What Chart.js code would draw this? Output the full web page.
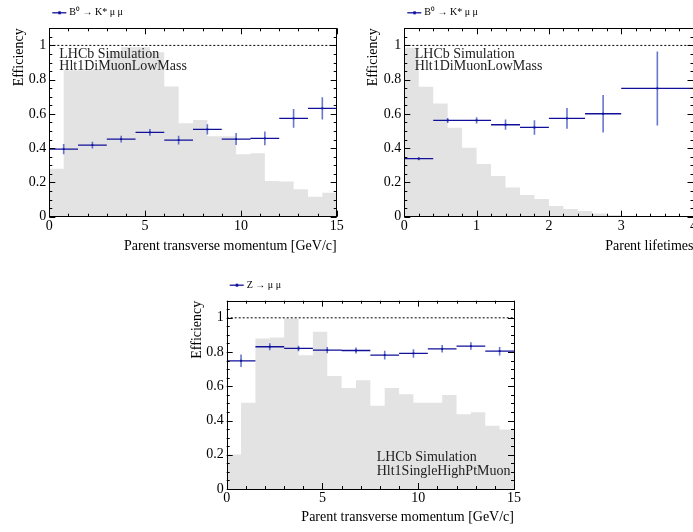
<!DOCTYPE html>
<html>
<head>
<meta charset="utf-8">
<script src="https://cdn.jsdelivr.net/npm/chart.js@4.4.1/dist/chart.umd.min.js"></script>
<style>
  body { margin: 0; background: #fff; }
  #page { position: relative; width: 693px; height: 532px; overflow: hidden; background: #fff; }
  canvas { position: absolute; }
</style>
</head>
<body>
<div id="page">
  <canvas id="ptChart" width="346" height="266" style="left:0;top:0"></canvas>
  <canvas id="tauChart" width="380" height="266" style="left:340px;top:0"></canvas>
  <canvas id="zChart" width="370" height="262" style="left:160px;top:270px"></canvas>
</div>
<script>
// 1. Data

// B0 -> K* mu mu vs pT
const ptHistEdges = [0, 0.75, 1.5, 2.25, 3, 3.75, 4.5, 5.25, 6, 6.75, 7.5, 8.25, 9, 9.75, 10.5, 11.25, 12, 12.75, 13.5, 14.25, 15];
const ptHist = [0.28, 0.855, 0.855, 0.86, 0.96, 0.99, 0.99, 0.96, 0.76, 0.545, 0.565, 0.47, 0.47, 0.365, 0.37, 0.208, 0.205, 0.16, 0.117, 0.14];
const ptEffEdges = [0, 1.5, 3, 4.5, 6, 7.5, 9, 10.5, 12, 13.5, 15];
const ptEff = [0.395, 0.418, 0.453, 0.492, 0.447, 0.51, 0.453, 0.457, 0.574, 0.632];
const ptErr = [0.03, 0.02, 0.02, 0.02, 0.025, 0.03, 0.035, 0.04, 0.055, 0.065];

// B0 -> K* mu mu vs lifetime
const tauHistEdges = [0, 0.2, 0.4, 0.6, 0.8, 1, 1.2, 1.4, 1.6, 1.8, 2, 2.2, 2.4, 2.6, 2.8, 3, 3.2, 3.4, 3.6, 3.8, 4];
const tauHist = [0.986, 0.759, 0.661, 0.52, 0.403, 0.307, 0.237, 0.171, 0.126, 0.103, 0.062, 0.045, 0.033, 0.018, 0.01, 0.006, 0.004, 0.003, 0.002, 0.001];
const tauEffEdges = [0, 0.4, 0.8, 1.2, 1.6, 2, 2.5, 3, 4];
const tauEff = [0.339, 0.562, 0.562, 0.537, 0.521, 0.574, 0.601, 0.749];
const tauErr = [0.01, 0.015, 0.018, 0.03, 0.042, 0.06, 0.11, 0.216];

// Z -> mu mu vs pT
const zHist = [0.202, 0.504, 0.879, 0.885, 0.996, 0.782, 0.918, 0.66, 0.59, 0.636, 0.486, 0.59, 0.554, 0.504, 0.504, 0.549, 0.436, 0.449, 0.37, 0.348];
const zEff = [0.749, 0.831, 0.821, 0.811, 0.809, 0.782, 0.792, 0.819, 0.835, 0.805];
const zErr = [0.036, 0.02, 0.016, 0.018, 0.018, 0.025, 0.025, 0.022, 0.022, 0.025];

// tick labels
const ptTicks = [0, 5, 10, 15];
const tauTicks = [0, 1, 2, 3, 4];
const effTicks = [0, 0.2, 0.4, 0.6, 0.8, 1];

Chart.defaults.font.family = "'Liberation Serif', 'DejaVu Serif', serif";
Chart.defaults.font.size = 14;
Chart.defaults.color = '#000';

// 2. helpers turning bins into line points
function histPoints(edges, vals) {
    const pts = vals.map((v, i) => ({ x: edges[i], y: v }));
    pts.push({ x: edges[edges.length - 1], y: vals[vals.length - 1] });
    return pts;
}

function hBars(edges, vals) {
    const pts = [];
    vals.forEach((v, i) => {
        pts.push({ x: edges[i], y: v }, { x: edges[i + 1], y: v }, { x: edges[i + 1], y: null });
    });
    return pts;
}

function vBars(edges, vals, errs) {
    const pts = [];
    vals.forEach((v, i) => {
        const c = (edges[i] + edges[i + 1]) / 2;
        pts.push({ x: c, y: v - errs[i] }, { x: c, y: v + errs[i] }, { x: c, y: null });
    });
    return pts;
}

function centers(edges, vals) {
    return vals.map((v, i) => ({ x: (edges[i] + edges[i + 1]) / 2, y: v }));
}

// 3. ROOT style frame, inner ticks, legend and labels
const rootFrame = {
    id: 'rootFrame',
    afterDatasetsDraw(chart, args, o) {
        const { ctx, chartArea: a, scales: { x, y } } = chart;
        ctx.save();
        ctx.strokeStyle = '#000';
        ctx.lineWidth = 1;
        ctx.beginPath();
        for (let k = 0; x.min + k * o.xMinor <= x.max + 1e-9; k++) {
            const v = x.min + k * o.xMinor;
            const px = Math.round(x.getPixelForValue(v)) + 0.5;
            const major = Math.abs(v / o.xMajor - Math.round(v / o.xMajor)) < 1e-6;
            const len = major ? 6 : 3;
            ctx.moveTo(px, a.bottom); ctx.lineTo(px, a.bottom - len);
            ctx.moveTo(px, a.top); ctx.lineTo(px, a.top + len);
        }
        for (let k = 0; k * o.yMinor <= y.max + 1e-9; k++) {
            const v = k * o.yMinor;
            const py = Math.round(y.getPixelForValue(v)) + 0.5;
            const major = Math.abs(v / 0.2 - Math.round(v / 0.2)) < 1e-6;
            const len = major ? 6 : 3;
            ctx.moveTo(a.left, py); ctx.lineTo(a.left + len, py);
            ctx.moveTo(a.right, py); ctx.lineTo(a.right - len, py);
        }
        ctx.stroke();
        ctx.strokeRect(Math.round(a.left) + 0.5, Math.round(a.top) + 0.5, Math.round(a.width), Math.round(a.height));

        // legend entry above the frame
        const lx = a.left + 3, ly = a.top - 15.5;
        ctx.strokeStyle = '#10109a';
        ctx.lineWidth = 1.3;
        ctx.beginPath();
        ctx.moveTo(lx, ly); ctx.lineTo(lx + 14, ly);
        ctx.stroke();
        ctx.fillStyle = '#10109a';
        ctx.fillRect(lx + 6, ly - 1.5, 2.5, 3);
        ctx.fillStyle = '#000';
        ctx.font = "10px 'Liberation Serif'";
        ctx.textBaseline = 'middle';
        ctx.textAlign = 'left';
        ctx.fillText(o.legend, lx + 17, ly);

        // LHCb label
        ctx.font = "14px 'Liberation Serif'";
        ctx.fillStyle = '#222';
        o.labels.forEach((t, i) => {
            const ty = o.labelBottom ? a.bottom - o.labelY[i] : a.top + o.labelY[i];
            ctx.fillText(t, a.left + o.labelX, ty);
        });
        ctx.restore();
    }
};

// 4. one chart per panel, chart area pinned to the reference pixels
function makeChart(id, cfg) {
    const canvas = document.getElementById(id);
    const W = canvas.width, H = canvas.height;
    const [al, at, ar, ab] = cfg.area;
    const half = 8.4;
    const xmin = cfg.histEdges[0], xmax = cfg.histEdges[cfg.histEdges.length - 1];

    return new Chart(canvas, {
        type: 'line',
        data: {
            datasets: [
                { data: centers(cfg.effEdges, cfg.eff), showLine: false, pointRadius: 1.3, pointStyle: 'rect',
                  pointBackgroundColor: '#10109a', pointBorderWidth: 0, order: 0 },
                { data: vBars(cfg.effEdges, cfg.eff, cfg.err), borderColor: 'rgba(40,60,185,0.7)', borderWidth: 1.6,
                  pointRadius: 0, order: 1 },
                { data: hBars(cfg.effEdges, cfg.eff), borderColor: '#10109a', borderWidth: 1.3, pointRadius: 0, order: 2 },
                { data: [{ x: xmin, y: 1 }, { x: xmax, y: 1 }], borderColor: '#000', borderWidth: 1,
                  borderDash: [2, 2], pointRadius: 0, order: 3 },
                { data: histPoints(cfg.histEdges, cfg.hist), stepped: true, fill: 'origin',
                  backgroundColor: '#e3e3e3', borderColor: 'rgba(0,0,0,0)', borderWidth: 0, pointRadius: 0, order: 4 }
            ]
        },
        options: {
            responsive: false,
            animation: false,
            devicePixelRatio: 1,
            layout: {
                padding: { left: cfg.yTitleX - half, top: at, right: W - ar, bottom: H - (cfg.xTitleY + half) }
            },
            scales: {
                x: {
                    type: 'linear', min: xmin, max: xmax,
                    afterFit: s => { s.height = cfg.xTitleY + half - ab; },
                    afterBuildTicks: s => { s.ticks = cfg.xTicks.map(v => ({ value: v })); },
                    ticks: { padding: 1, maxRotation: 0, autoSkip: false, callback: v => String(v) },
                    grid: { display: false, drawTicks: false },
                    border: { display: false },
                    title: { display: true, text: cfg.xTitle, align: 'end', padding: 0 }
                },
                y: {
                    min: 0, max: 1.1,
                    afterFit: s => { s.width = al - (cfg.yTitleX - half); },
                    afterBuildTicks: s => { s.ticks = effTicks.map(v => ({ value: v })); },
                    ticks: { padding: 3, autoSkip: false, callback: v => String(v) },
                    grid: { display: false, drawTicks: false },
                    border: { display: false },
                    title: { display: true, text: 'Efficiency', align: 'end', padding: 0 }
                }
            },
            plugins: {
                legend: { display: false },
                tooltip: { enabled: false },
                rootFrame: {
                    xMajor: cfg.xMajor, xMinor: cfg.xMinor, yMinor: 0.05,
                    legend: cfg.legend, labels: cfg.labels,
                    labelX: cfg.labelX, labelY: cfg.labelY, labelBottom: cfg.labelBottom
                }
            }
        },
        plugins: [rootFrame]
    });
}

makeChart('ptChart', {
    area: [49.3, 28.3, 336.7, 216.7], yTitleX: 19.3, xTitleY: 246.7,
    histEdges: ptHistEdges, hist: ptHist, effEdges: ptEffEdges, eff: ptEff, err: ptErr,
    xTicks: ptTicks, xMajor: 5, xMinor: 1,
    xTitle: 'Parent transverse momentum [GeV/c]',
    legend: 'B⁰ → K* μ μ',
    labels: ['LHCb Simulation', 'Hlt1DiMuonLowMass'], labelX: 10, labelY: [26, 38.4], labelBottom: false
});

makeChart('tauChart', {
    area: [64.3, 28.3, 353.5, 216.7], yTitleX: 33.3, xTitleY: 246.7,
    histEdges: tauHistEdges, hist: tauHist, effEdges: tauEffEdges, eff: tauEff, err: tauErr,
    xTicks: tauTicks, xMajor: 1, xMinor: 0.2,
    xTitle: 'Parent lifetimes',
    legend: 'B⁰ → K* μ μ',
    labels: ['LHCb Simulation', 'Hlt1DiMuonLowMass'], labelX: 10.5, labelY: [26, 38.4], labelBottom: false
});

makeChart('zChart', {
    area: [66.7, 30.7, 354, 219], yTitleX: 37.3, xTitleY: 247.3,
    histEdges: ptHistEdges, hist: zHist, effEdges: ptEffEdges, eff: zEff, err: zErr,
    xTicks: ptTicks, xMajor: 5, xMinor: 1,
    xTitle: 'Parent transverse momentum [GeV/c]',
    legend: 'Z → μ μ',
    labels: ['LHCb Simulation', 'Hlt1SingleHighPtMuon'], labelX: 150, labelY: [31.3, 17.3], labelBottom: true
});
</script>
</body>
</html>
